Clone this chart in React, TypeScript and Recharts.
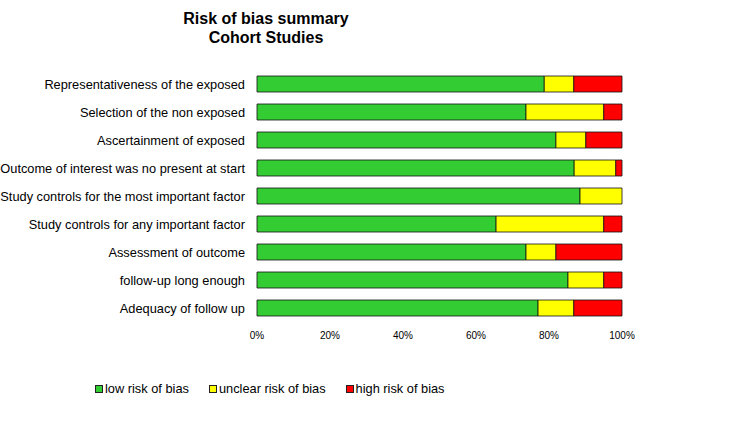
import React from "react";
import { BarChart, Bar, XAxis, YAxis } from "recharts";

const categories = [
  "Representativeness of the exposed",
  "Selection of the non exposed",
  "Ascertainment of exposed",
  "Outcome of interest was no present at start",
  "Study controls for the most important factor",
  "Study controls for any important factor",
  "Assessment of outcome",
  "follow-up long enough",
  "Adequacy of follow up",
];
const lowRisk = [78.7, 73.7, 81.9, 86.9, 88.5, 65.5, 73.7, 85.2, 77.0];
const unclearRisk = [8.1, 21.3, 8.2, 11.4, 11.5, 29.5, 8.2, 9.8, 9.8];
const highRisk = [13.2, 5.0, 9.9, 1.7, 0, 5.0, 18.1, 5.0, 13.2];
const xTicks = [0, 20, 40, 60, 80, 100];

const seriesInfo = [
  { key: "low", label: "low risk of bias", color: "#33CC33" },
  { key: "unclear", label: "unclear risk of bias", color: "#FFFF00" },
  { key: "high", label: "high risk of bias", color: "#FF0000" },
];

const data = categories.map((name, i) => ({
  name,
  low: lowRisk[i],
  unclear: unclearRisk[i],
  high: highRisk[i],
}));

const FONT = "'Liberation Sans', Arial, sans-serif";

const CategoryTick = (props: any) => {
  const { x, y, payload } = props;
  return (
    <text
      x={x}
      y={y}
      dy="0.355em"
      textAnchor="end"
      fontSize={12.8}
      fill="#000"
      fontFamily={FONT}
    >
      {payload.value}
    </text>
  );
};

export default function App() {
  return (
    <div style={{ position: "absolute", left: 0, top: 0, width: 740, height: 421, fontFamily: FONT, background: "#fff" }}>
      <div
        style={{
          position: "absolute",
          left: 166,
          top: 9,
          width: 200,
          textAlign: "center",
          fontWeight: "bold",
          fontSize: 16,
          lineHeight: "19px",
          color: "#000",
        }}
      >
        Risk of bias summary
        <br />
        Cohort Studies
      </div>
      <BarChart
        width={740}
        height={421}
        data={data}
        layout="vertical"
        margin={{ top: 70, right: 118, left: 0, bottom: 69 }}
        style={{ fontFamily: FONT }}
      >
        <XAxis
          type="number"
          domain={[0, 100]}
          ticks={xTicks}
          tickFormatter={(v: number) => `${v}%`}
          axisLine={false}
          tickLine={false}
          tickSize={0}
          tickMargin={10}
          height={30}
          interval={0}
          tick={{ fontSize: 10, fill: "#000", fontFamily: FONT }}
        />
        <YAxis
          type="category"
          dataKey="name"
          width={257}
          axisLine={false}
          tickLine={false}
          tickSize={0}
          tickMargin={12}
          interval={0}
          tick={<CategoryTick />}
        />
        {seriesInfo.map((s) => (
          <Bar
            key={s.key}
            dataKey={s.key}
            stackId="a"
            fill={s.color}
            stroke="#111"
            strokeWidth={0.8}
            barSize={16}
            isAnimationActive={false}
          />
        ))}
      </BarChart>
      <div
        style={{
          position: "absolute",
          left: 95,
          top: 381,
          display: "flex",
          alignItems: "center",
          fontSize: 12.8,
          color: "#000",
          whiteSpace: "nowrap",
        }}
      >
        {seriesInfo.map((s, i) => (
          <div key={s.key} style={{ display: "flex", alignItems: "center", marginRight: i < 2 ? 20 : 0 }}>
            <span
              style={{
                display: "inline-block",
                width: 6,
                height: 6,
                background: s.color,
                border: "1px solid #222",
                marginRight: 2,
              }}
            />
            <span>{s.label}</span>
          </div>
        ))}
      </div>
    </div>
  );
}
